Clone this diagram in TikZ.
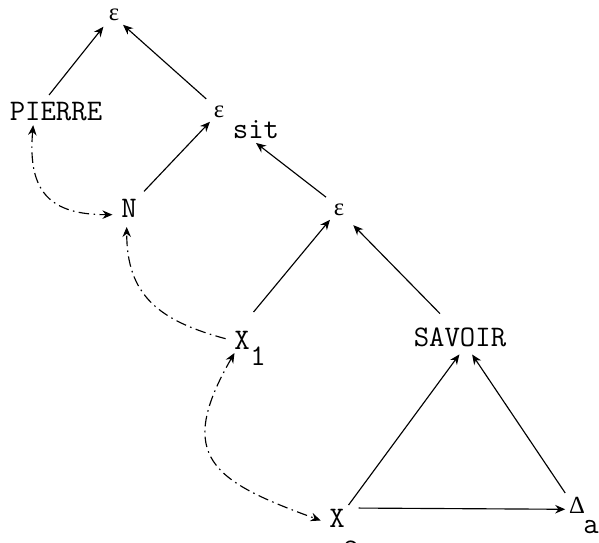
\RequirePackage{fix-cm}
\documentclass[tikz,border=0pt]{standalone}
\usepackage{fontspec}
\usetikzlibrary{arrows.meta}
\newfontfamily\grk{Liberation Serif}
\newcommand{\geps}{{\fontsize{14}{14}\selectfont\grk ε}}
\newcommand{\gdelta}{{\fontsize{14}{14}\selectfont\grk Δ}}
\tikzset{
	tw/.style={
		inner sep=2pt,
		font=\fontsize{17}{20}\selectfont\ttfamily
	},
	tarr/.style={-{Stealth[length=2mm,width=1.7mm]}, line width=0.65pt},
	darr/.style={tarr, dash pattern=on 6pt off 2.5pt on 0.9pt off 2.5pt}
}
\begin{document}
\begin{tikzpicture}[x=0.2mm, y=-0.2mm]
		\useasboundingbox (0,0) rectangle (599,543);
		% upper tree
		\node[tw] (etop) at (114,15) {\geps};
		\node[tw] (pierre) at (56,112) {PIERRE};
		\node[tw] (esit) at (219,112) {\geps};
		\node[tw] (sit) at (256,130) {sit};
		\node[tw] (n) at (129,208) {N};
		\node[tw] (emid) at (339,210) {\geps};
		% lower part
		\node[tw] (x1) at (242,340) {X};
		\node[tw] (one) at (258,356) {1};
		\node[tw] (savoir) at (460,337) {SAVOIR};
		\node[tw] (x2) at (337,518) {X};
		\node[tw] (two) at (351,550) {2};
		\node[tw] (delta) at (577,505) {\gdelta};
		\node[tw] (suba) at (591,527) {a};
		% plain arrows
		\draw[tarr, shorten <=1mm, shorten >=0.5mm] ([xshift=-2mm]pierre.north) -- (etop.south west);
		\draw[tarr, shorten <=1mm] (esit.north west) -- (etop.south east);
		\draw[tarr, shorten <=1mm] (n.north east) -- (esit.south west);
		\draw[tarr, shorten <=1mm] (emid.north west) -- (sit.south);
		\draw[tarr] ([yshift=3mm]x1.north east) -- (emid.south west);
		\draw[tarr, shorten >=1.5mm] ([xshift=-4mm,yshift=2mm]savoir.north) -- (emid.south east);
		\draw[tarr, shorten >=1mm] (x2.north east) -- (savoir.-80);
		\draw[tarr, shorten >=1mm] (delta.north west) -- (savoir.-55);
		\draw[tarr, shorten <=2mm] ([yshift=2mm]x2.east) -- (delta.-160);
		% dash-dot links
		\draw[darr, {Stealth[length=2mm,width=1.7mm]}-{Stealth[length=2mm,width=1.7mm]}, shorten >=1mm]
			(pierre.-150) to[out=-95, in=180, looseness=1.4] (n.-150);
		\draw[darr, shorten <=1mm, shorten >=1.2mm]
			(x1.west) to[out=165, in=-90, looseness=1.2] (n.-100);
		\draw[darr, {Stealth[length=2mm,width=1.7mm]}-{Stealth[length=2mm,width=1.7mm]}, shorten >=1mm]
			(x1.-120) to[out=-120, in=160, looseness=1.6] (x2.-160);
\end{tikzpicture}
\end{document}
